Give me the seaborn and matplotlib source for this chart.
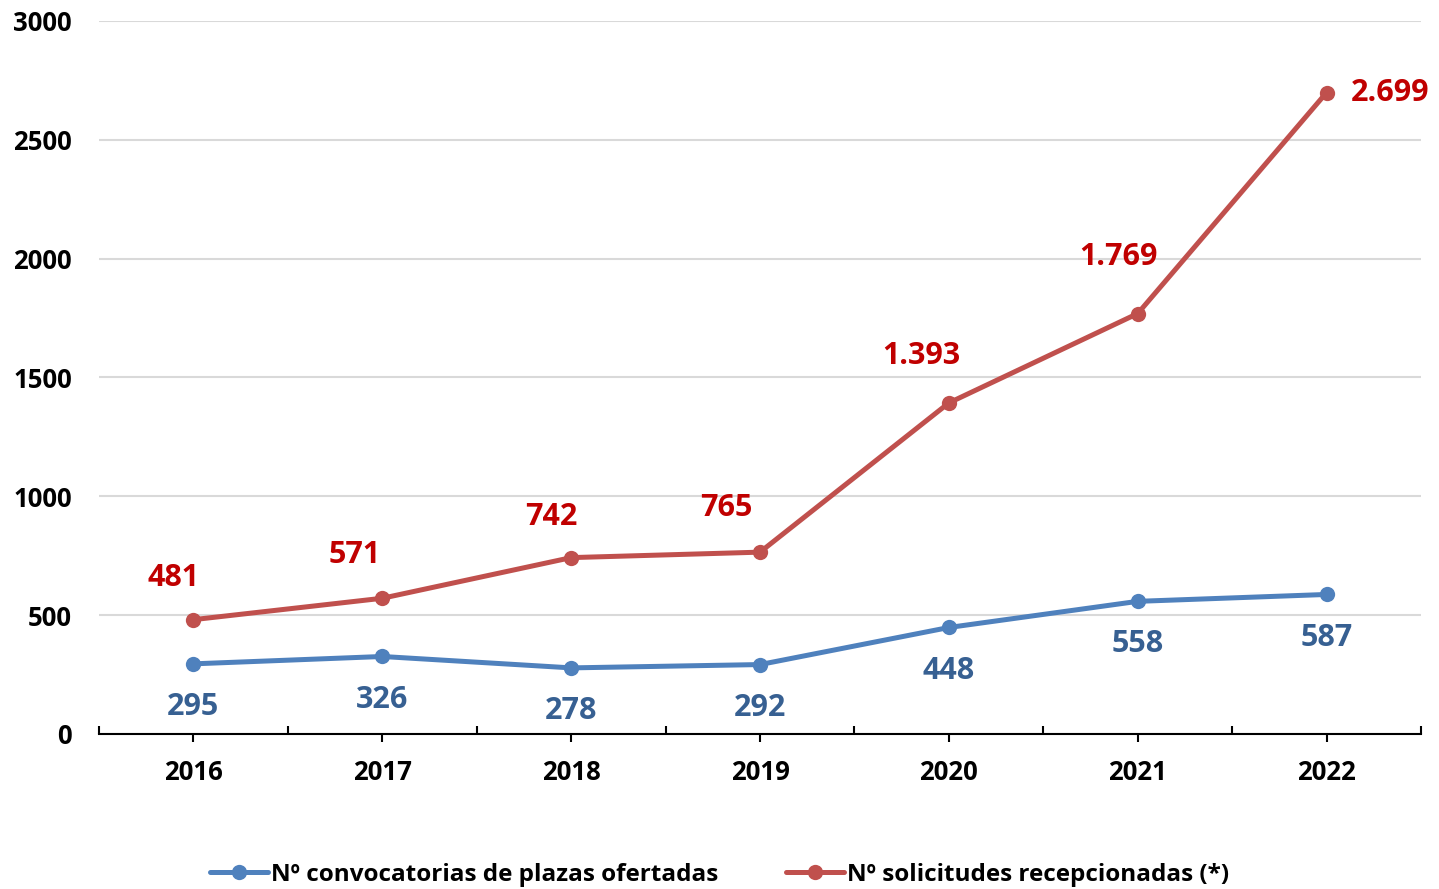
import matplotlib
matplotlib.use("Agg")
import matplotlib.pyplot as plt
import seaborn as sns
import pandas as pd

# Data
years = ["2016", "2017", "2018", "2019", "2020", "2021", "2022"]
convocatorias = [295, 326, 278, 292, 448, 558, 587]
solicitudes = [481, 571, 742, 765, 1393, 1769, 2699]
series_names = ["Nº convocatorias de plazas ofertadas",
                "Nº solicitudes recepcionadas (*)"]

df = pd.DataFrame({
    "pos": list(range(len(years))) * 2,
    "valor": convocatorias + solicitudes,
    "serie": [series_names[0]] * len(years) + [series_names[1]] * len(years),
})

sns.set_style("white")
plt.rcParams['font.family'] = ['Open Sans', 'DejaVu Sans']
plt.rcParams['font.weight'] = 'bold'
plt.rcParams['text.color'] = 'black'
plt.rcParams['xtick.color'] = 'black'
plt.rcParams['ytick.color'] = 'black'

line_colors = ["#4F81BD", "#C0504D"]
label_colors = ["#376092", "#C00000"]

fig = plt.figure(figsize=(14.39, 8.89), dpi=100)
ax = fig.add_axes([0.0688, 0.1744, 0.9187, 0.802])

sns.lineplot(data=df, x="pos", y="valor", hue="serie", palette=line_colors,
             marker="o", markersize=11, markeredgewidth=0, linewidth=3.6,
             ax=ax, legend=True)

# Axis limits and ticks
ax.set_xlim(-0.5, len(years) - 0.5)
ax.set_ylim(0, 3000)
ax.set_yticks(range(0, 3001, 500))
ax.set_xticks(range(len(years)))
ax.set_xticklabels(years, fontweight='bold')
ax.set_yticklabels([str(v) for v in range(0, 3001, 500)], fontweight='bold')
ax.set_xticks([i - 0.5 for i in range(len(years) + 1)], minor=True)
ax.tick_params(axis='x', which='both', bottom=True)
ax.tick_params(axis='x', which='major', direction='out', length=6, width=1.5,
               color='black', labelsize=18.5, pad=12)
ax.tick_params(axis='x', which='minor', direction='in', length=6, width=1.5,
               color='black')
ax.tick_params(axis='y', length=0, labelsize=18.5, pad=19.5)
ax.set_xlabel("")
ax.set_ylabel("")

ax.yaxis.grid(True, color="#D9D9D9", linewidth=1.5)
ax.set_axisbelow(True)
for side in ['left', 'right', 'top']:
    ax.spines[side].set_visible(False)
ax.spines['bottom'].set_color('black')
ax.spines['bottom'].set_linewidth(1.5)

# Data labels (offsets in points)
blue_offsets = [(0, -31)] * len(years)
red_offsets = [(-14, 30), (-20, 31), (-14, 29), (-24, 32), (-20, 34), (-14, 41), (46, 0)]

def fmt(v):
    return f"{v:,}".replace(",", ".")

for i, v in enumerate(convocatorias):
    ax.annotate(fmt(v), (i, v), xytext=blue_offsets[i], textcoords='offset points',
                ha='center', va='center', fontsize=22, fontweight='bold',
                color=label_colors[0])
for i, v in enumerate(solicitudes):
    ax.annotate(fmt(v), (i, v), xytext=red_offsets[i], textcoords='offset points',
                ha='center', va='center', fontsize=22, fontweight='bold',
                color=label_colors[1])

# Legend at bottom
handles, labels = ax.get_legend_handles_labels()
ax.get_legend().remove()
fig.legend(handles, labels, loc='center', bbox_to_anchor=(0.5, 0.016), ncol=2,
           frameon=False, prop={'size': 17.5, 'weight': 'bold'},
           handlelength=2.4, handletextpad=0.1, columnspacing=2.8)

fig.savefig("out.png", dpi=100)
